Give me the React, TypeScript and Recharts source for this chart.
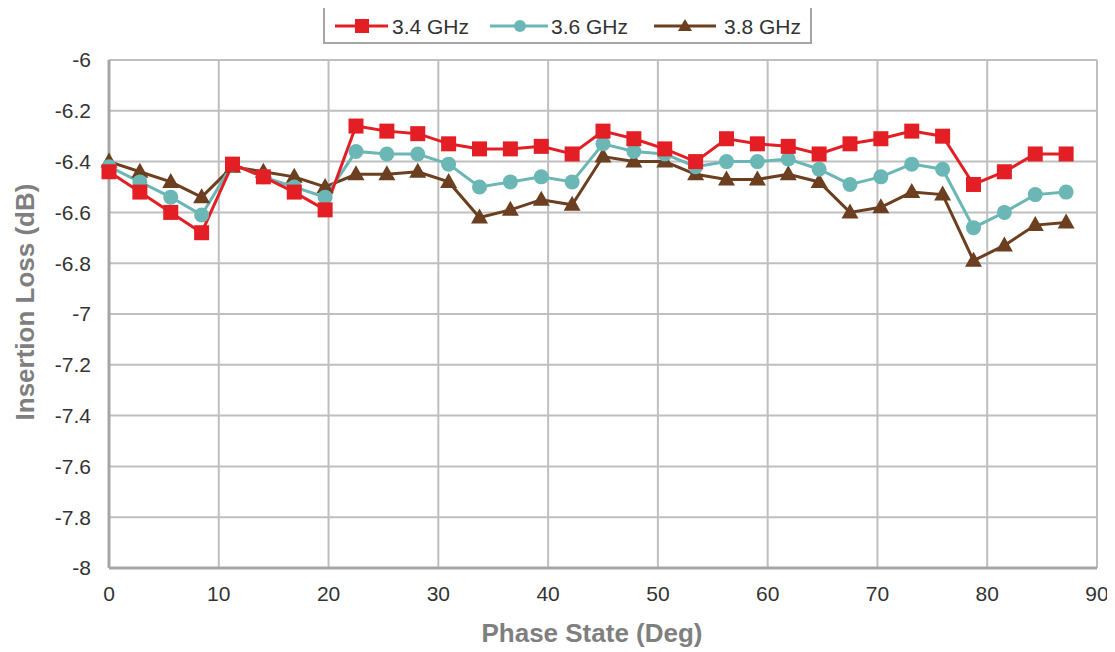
import React from "react";
import { LineChart, Line, XAxis, YAxis, CartesianGrid } from "recharts";

const phaseStates = [
  0, 2.8125, 5.625, 8.4375, 11.25, 14.0625, 16.875, 19.6875, 22.5, 25.3125, 28.125, 30.9375,
  33.75, 36.5625, 39.375, 42.1875, 45, 47.8125, 50.625, 53.4375, 56.25, 59.0625, 61.875,
  64.6875, 67.5, 70.3125, 73.125, 75.9375, 78.75, 81.5625, 84.375, 87.1875,
];
const loss34 = [
  -6.44, -6.52, -6.6, -6.68, -6.41, -6.46, -6.52, -6.59, -6.26, -6.28, -6.29, -6.33, -6.35,
  -6.35, -6.34, -6.37, -6.28, -6.31, -6.35, -6.4, -6.31, -6.33, -6.34, -6.37, -6.33, -6.31,
  -6.28, -6.3, -6.49, -6.44, -6.37, -6.37,
];
const loss36 = [
  -6.42, -6.48, -6.54, -6.61, -6.41, -6.46, -6.5, -6.54, -6.36, -6.37, -6.37, -6.41, -6.5,
  -6.48, -6.46, -6.48, -6.33, -6.36, -6.37, -6.42, -6.4, -6.4, -6.39, -6.43, -6.49, -6.46,
  -6.41, -6.43, -6.66, -6.6, -6.53, -6.52,
];
const loss38 = [
  -6.4, -6.44, -6.48, -6.54, -6.42, -6.44, -6.46, -6.5, -6.45, -6.45, -6.44, -6.48, -6.62,
  -6.59, -6.55, -6.57, -6.38, -6.4, -6.4, -6.45, -6.47, -6.47, -6.45, -6.48, -6.6, -6.58,
  -6.52, -6.53, -6.79, -6.73, -6.65, -6.64,
];
const xTicks = [0, 10, 20, 30, 40, 50, 60, 70, 80, 90];
const yTicks = [-8, -7.8, -7.6, -7.4, -7.2, -7, -6.8, -6.6, -6.4, -6.2, -6];
const seriesNames = ["3.4 GHz", "3.6 GHz", "3.8 GHz"];

const data = phaseStates.map((p, i) => ({
  phase: p,
  f34: loss34[i],
  f36: loss36[i],
  f38: loss38[i],
}));

const RED = "#E31E24";
const TEAL = "#6BB7B5";
const BROWN = "#6B3F1F";
const FONT = "'Liberation Sans', Arial, sans-serif";

const SquareDot = (props: any) => {
  const { cx, cy, key } = props;
  if (cx == null || cy == null) return null;
  return <rect key={key} x={cx - 7.5} y={cy - 7.5} width={15} height={15} fill={RED} />;
};
const CircleDot = (props: any) => {
  const { cx, cy, key } = props;
  if (cx == null || cy == null) return null;
  return <circle key={key} cx={cx} cy={cy} r={7.5} fill={TEAL} />;
};
const TriDot = (props: any) => {
  const { cx, cy, key } = props;
  if (cx == null || cy == null) return null;
  return (
    <polygon
      key={key}
      points={`${cx},${cy - 9} ${cx - 8.5},${cy + 6} ${cx + 8.5},${cy + 6}`}
      fill={BROWN}
    />
  );
};

const Legend = () => (
  <div
    style={{
      position: "absolute",
      left: 315,
      top: -3,
      width: 485,
      height: 35,
      border: "2px solid #a6a6a6",
      background: "#fff",
    }}
  >
    <svg width={485} height={35} style={{ display: "block" }}>
      <line x1={10} x2={63} y1={19} y2={19} stroke={RED} strokeWidth={3} />
      <rect x={30} y={12} width={14} height={14} fill={RED} />
      <text x={67} y={26.5} fontSize={21} fill="#333" fontFamily={FONT}>
        {seriesNames[0]}
      </text>
      <line x1={165} x2={223} y1={19} y2={19} stroke={TEAL} strokeWidth={3} />
      <circle cx={195} cy={19} r={6} fill={TEAL} />
      <text x={226} y={26.5} fontSize={21} fill="#333" fontFamily={FONT}>
        {seriesNames[1]}
      </text>
      <line x1={329} x2={391} y1={19} y2={19} stroke={BROWN} strokeWidth={3} />
      <polygon points="360,12 353,24 367,24" fill={BROWN} />
      <text x={399} y={26.5} fontSize={21} fill="#333" fontFamily={FONT}>
        {seriesNames[2]}
      </text>
    </svg>
  </div>
);

export default function App() {
  return (
    <div style={{ position: "relative", width: 1107, height: 644, fontFamily: FONT }}>
      <LineChart
        width={1107}
        height={644}
        data={data}
        margin={{ top: 52, right: 18, left: 0, bottom: 0 }}
      >
        <CartesianGrid stroke="#bfbfbf" strokeWidth={2} verticalValues={xTicks} horizontalValues={yTicks} />
        <XAxis
          dataKey="phase"
          type="number"
          domain={[0, 90]}
          ticks={xTicks}
          height={84}
          tickLine={false}
          tickSize={0}
          tickMargin={18}
          axisLine={{ stroke: "#a6a6a6", strokeWidth: 3 }}
          tick={{ fill: "#333", fontSize: 21, fontFamily: FONT }}
          label={{
            content: (p: any) => {
              const vb = p.viewBox || {};
              return (
                <text
                  x={vb.x + vb.width / 2 - 11}
                  y={634}
                  textAnchor="middle"
                  fontSize={26}
                  fontWeight="bold"
                  fill="#7f7f7f"
                  fontFamily={FONT}
                >
                  Phase State (Deg)
                </text>
              );
            },
          }}
        />
        <YAxis
          type="number"
          domain={[-8, -6]}
          ticks={yTicks}
          width={101}
          tickLine={false}
          tickSize={0}
          tickMargin={18}
          interval={0}
          axisLine={{ stroke: "#a6a6a6", strokeWidth: 3 }}
          tick={{ fill: "#333", fontSize: 21, fontFamily: FONT }}
          tickFormatter={(v: number) => String(Math.round(v * 10) / 10)}
          label={{
            content: (p: any) => {
              const vb = p.viewBox || {};
              const cy = vb.y + vb.height / 2 - 12;
              return (
                <text
                  x={17}
                  y={cy}
                  transform={`rotate(-90, 17, ${cy})`}
                  textAnchor="middle"
                  dominantBaseline="central"
                  fontSize={26}
                  fontWeight="bold"
                  fill="#7f7f7f"
                  fontFamily={FONT}
                >
                  Insertion Loss (dB)
                </text>
              );
            },
          }}
        />
        <Line
          dataKey="f38"
          name={seriesNames[2]}
          stroke={BROWN}
          strokeWidth={3}
          dot={TriDot}
          isAnimationActive={false}
          type="linear"
        />
        <Line
          dataKey="f36"
          name={seriesNames[1]}
          stroke={TEAL}
          strokeWidth={3}
          dot={CircleDot}
          isAnimationActive={false}
          type="linear"
        />
        <Line
          dataKey="f34"
          name={seriesNames[0]}
          stroke={RED}
          strokeWidth={3}
          dot={SquareDot}
          isAnimationActive={false}
          type="linear"
        />
      </LineChart>
      <Legend />
    </div>
  );
}
